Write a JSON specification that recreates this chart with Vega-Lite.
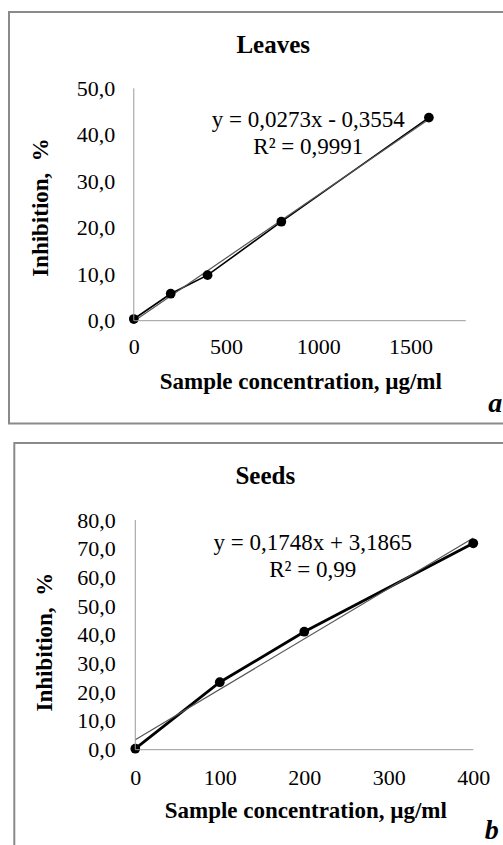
{
  "$schema": "https://vega.github.io/schema/vega-lite/v6.json",
  "background": "white",
  "padding": {"left": 8, "top": 11, "right": 0, "bottom": 0},
  "spacing": 17,
  "center": true,
  "datasets": {
    "leaves": [
      {"conc": 0, "inh": 0.36},
      {"conc": 200, "inh": 5.8},
      {"conc": 400, "inh": 9.8},
      {"conc": 800, "inh": 21.3},
      {"conc": 1600, "inh": 43.7}
    ],
    "seeds": [
      {"conc": 0, "inh": 0.35},
      {"conc": 100, "inh": 23.5},
      {"conc": 200, "inh": 41.1},
      {"conc": 400, "inh": 71.9}
    ],
    "one": [{}]
  },
  "vconcat": [
    {
      "width": 501,
      "height": 411.5,
      "layer": [
        {
          "data": {"name": "leaves"},
          "mark": {"type": "line", "color": "#000", "strokeWidth": 1.6},
          "encoding": {
            "x": {
              "field": "conc", "type": "quantitative",
              "scale": {"domain": [-676.6, 2039.7], "nice": false, "zero": false},
              "axis": {
                "values": [0, 500, 1000, 1500], "offset": -102.8, "format": "d",
                "labelPadding": 16,
                "title": "Sample concentration, µg/ml",
                "titleX": 291.3, "titleY": 67.3, "titleAlign": "center", "titleBaseline": "alphabetic"
              }
            },
            "y": {
              "field": "inh", "type": "quantitative",
              "scale": {"domain": [-22.12, 66.42], "nice": false, "zero": false},
              "axis": {
                "values": [0, 10, 20, 30, 40, 50], "offset": -124.8,
                "labelPadding": 19,
                "labelExpr": "replace(format(datum.value, '.1f'), '.', ',')",
                "title": "Inhibition,\u00a0 %",
                "titleX": -86.8, "titleY": 195, "titleAngle": 270, "titleAlign": "center", "titleBaseline": "alphabetic"
              }
            }
          }
        },
        {
          "data": {"name": "leaves"},
          "transform": [{"regression": "inh", "on": "conc", "extent": [0, 1600]}],
          "mark": {"type": "line", "color": "#555555", "strokeWidth": 1.2},
          "encoding": {
            "x": {"field": "conc", "type": "quantitative"},
            "y": {"field": "inh", "type": "quantitative"}
          }
        },
        {
          "data": {"name": "leaves"},
          "mark": {"type": "circle", "color": "#000", "opacity": 1, "size": 95},
          "encoding": {
            "x": {"field": "conc", "type": "quantitative"},
            "y": {"field": "inh", "type": "quantitative"}
          }
        },
        {
          "data": {"name": "one"},
          "mark": {"type": "rule", "color": "#9a9a9a", "strokeWidth": 1},
          "encoding": {"x": {"datum": 0}, "x2": {"datum": 1800}, "y": {"datum": 0}}
        },
        {
          "data": {"name": "one"},
          "mark": {"type": "rule", "color": "#9a9a9a", "strokeWidth": 1},
          "encoding": {"x": {"datum": 0}, "y": {"datum": 0}, "y2": {"datum": 50}}
        },
        {
          "data": {"name": "one"},
          "mark": {"type": "text", "fontSize": 25, "fontWeight": "bold", "align": "center", "baseline": "alphabetic", "color": "#000"},
          "encoding": {"x": {"datum": 756}, "y": {"datum": 57.5}, "text": {"value": "Leaves"}}
        },
        {
          "data": {"name": "one"},
          "mark": {"type": "text", "fontSize": 23, "align": "center", "baseline": "alphabetic", "lineHeight": 26.7, "color": "#000"},
          "encoding": {"x": {"datum": 946}, "y": {"datum": 41.6}, "text": {"value": ["y = 0,0273x - 0,3554", "R² = 0,9991"]}}
        },
        {
          "data": {"name": "one"},
          "mark": {"type": "text", "fontSize": 28, "fontWeight": "bold", "fontStyle": "italic", "align": "center", "baseline": "alphabetic", "color": "#000"},
          "encoding": {"x": {"datum": 1960}, "y": {"datum": -19.6}, "text": {"value": "a"}}
        }
      ]
    },
    {
      "width": 490.4,
      "height": 406,
      "layer": [
        {
          "data": {"name": "seeds"},
          "mark": {"type": "line", "color": "#000", "strokeWidth": 2.8},
          "encoding": {
            "x": {
              "field": "conc", "type": "quantitative",
              "scale": {"domain": [-143.2, 437.2], "nice": false, "zero": false},
              "axis": {
                "values": [0, 100, 200, 300, 400], "offset": -99.3, "format": "d",
                "labelPadding": 18,
                "title": "Sample concentration, µg/ml",
                "titleX": 291, "titleY": 67.7, "titleAlign": "center", "titleBaseline": "alphabetic"
              }
            },
            "y": {
              "field": "inh", "type": "quantitative",
              "scale": {"domain": [-34.59, 106.83], "nice": false, "zero": false},
              "axis": {
                "values": [0, 10, 20, 30, 40, 50, 60, 70, 80], "offset": -121,
                "labelPadding": 20,
                "labelExpr": "replace(format(datum.value, '.1f'), '.', ',')",
                "title": "Inhibition,\u00a0 %",
                "titleX": -84, "titleY": 198.7, "titleAngle": 270, "titleAlign": "center", "titleBaseline": "alphabetic"
              }
            }
          }
        },
        {
          "data": {"name": "seeds"},
          "transform": [{"regression": "inh", "on": "conc", "extent": [0, 400]}],
          "mark": {"type": "line", "color": "#555555", "strokeWidth": 1.2},
          "encoding": {
            "x": {"field": "conc", "type": "quantitative"},
            "y": {"field": "inh", "type": "quantitative"}
          }
        },
        {
          "data": {"name": "seeds"},
          "mark": {"type": "circle", "color": "#000", "opacity": 1, "size": 95},
          "encoding": {
            "x": {"field": "conc", "type": "quantitative"},
            "y": {"field": "inh", "type": "quantitative"}
          }
        },
        {
          "data": {"name": "one"},
          "mark": {"type": "rule", "color": "#9a9a9a", "strokeWidth": 1},
          "encoding": {"x": {"datum": 0}, "x2": {"datum": 400}, "y": {"datum": 0}}
        },
        {
          "data": {"name": "one"},
          "mark": {"type": "rule", "color": "#9a9a9a", "strokeWidth": 1},
          "encoding": {"x": {"datum": 0}, "y": {"datum": 0}, "y2": {"datum": 80}}
        },
        {
          "data": {"name": "one"},
          "mark": {"type": "text", "fontSize": 25, "fontWeight": "bold", "align": "center", "baseline": "alphabetic", "color": "#000"},
          "encoding": {"x": {"datum": 153.8}, "y": {"datum": 92.5}, "text": {"value": "Seeds"}}
        },
        {
          "data": {"name": "one"},
          "mark": {"type": "text", "fontSize": 23, "align": "center", "baseline": "alphabetic", "lineHeight": 26.7, "color": "#000"},
          "encoding": {"x": {"datum": 210}, "y": {"datum": 69.6}, "text": {"value": ["y = 0,1748x + 3,1865", "R² = 0,99"]}}
        },
        {
          "data": {"name": "one"},
          "mark": {"type": "text", "fontSize": 28, "fontWeight": "bold", "fontStyle": "italic", "align": "center", "baseline": "alphabetic", "color": "#000"},
          "encoding": {"x": {"datum": 421.9}, "y": {"datum": -31.2}, "text": {"value": "b"}}
        }
      ]
    }
  ],
  "config": {
    "font": "Liberation Serif",
    "view": {"stroke": "#8a8a8a", "strokeWidth": 2},
    "axis": {
      "domain": false, "ticks": false, "tickSize": 0, "grid": false,
      "labelFont": "Liberation Serif", "labelFontSize": 22, "labelColor": "#000",
      "labelFlush": false, "labelOverlap": false,
      "titleFont": "Liberation Serif", "titleFontSize": 23, "titleFontWeight": "bold", "titleColor": "#000"
    }
  }
}
